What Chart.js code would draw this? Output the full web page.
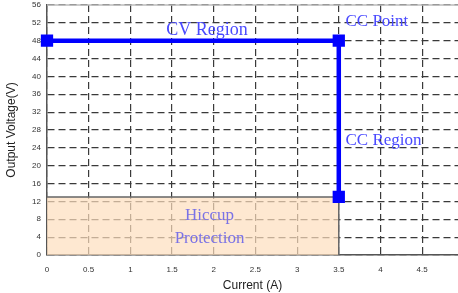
<!DOCTYPE html>
<html>
<head>
<meta charset="utf-8">
<script src="https://cdn.jsdelivr.net/npm/chart.js@4/dist/chart.umd.min.js"></script>
<style>
html,body{margin:0;padding:0;background:#fff;}
#wrap{position:relative;width:458px;height:293px;}
</style>
</head>
<body>
<div id="wrap"><canvas id="c" width="458" height="293"></canvas></div>
<script>
// Data
const currentA = [0, 3.5, 3.5];
const voltageV = [48, 48, 13];
const hiccupCurrent = [0, 3.5];
const hiccupVoltage = [0, 13];
const yTicks = [0, 4, 8, 12, 16, 20, 24, 28, 32, 36, 40, 44, 48, 52, 56];
const xTicks = [0, 0.5, 1, 1.5, 2, 2.5, 3, 3.5, 4, 4.5];
const regionLabels = ['CV Region', 'CC Point', 'CC Region'];
const hiccupLabels = ['Hiccup', 'Protection'];

const overlay = {
  id: 'overlay',
  beforeDatasetsDraw(chart) {
    const {ctx, scales: {x, y}} = chart;
    const x0 = x.getPixelForValue(hiccupCurrent[0]);
    const x1 = x.getPixelForValue(hiccupCurrent[1]);
    const y0 = y.getPixelForValue(hiccupVoltage[0]);
    const y1 = y.getPixelForValue(hiccupVoltage[1]);
    ctx.save();
    ctx.fillStyle = 'rgba(253,222,190,0.7)';
    ctx.fillRect(x0, y1, x1 - x0, y0 - y1);
    ctx.strokeStyle = '#666';
    ctx.lineWidth = 1.5;
    ctx.beginPath();
    ctx.moveTo(x0, y1); ctx.lineTo(x1, y1); ctx.lineTo(x1, y0);
    ctx.stroke();
    // top frame line
    ctx.strokeStyle = '#bbb';
    ctx.lineWidth = 1.5;
    ctx.beginPath();
    ctx.moveTo(chart.chartArea.left, chart.chartArea.top);
    ctx.lineTo(chart.chartArea.right, chart.chartArea.top);
    ctx.stroke();
    ctx.restore();
  },
  afterDatasetsDraw(chart) {
    const {ctx, scales: {x, y}} = chart;
    ctx.save();
    ctx.font = '18px "Liberation Serif", "Times New Roman", serif';
    ctx.fillStyle = '#4a4aff';
    ctx.textBaseline = 'middle';
    ctx.textAlign = 'center';
    ctx.fillText(regionLabels[0], x.getPixelForValue(1.92), y.getPixelForValue(50.4));
    ctx.textAlign = 'left';
    ctx.font = '17px "Liberation Serif", "Times New Roman", serif';
    ctx.fillText(regionLabels[1], x.getPixelForValue(3.58), y.getPixelForValue(52.2));
    ctx.fillText(regionLabels[2], x.getPixelForValue(3.58), y.getPixelForValue(25.7));
    ctx.fillStyle = '#7a72e6';
    ctx.textAlign = 'center';
    ctx.fillText(hiccupLabels[0], x.getPixelForValue(1.95), y.getPixelForValue(8.9));
    ctx.fillText(hiccupLabels[1], x.getPixelForValue(1.95), y.getPixelForValue(3.8));
    ctx.restore();
  }
};

const tickFont = {family: 'Arial, "Liberation Sans", sans-serif', size: 8};
new Chart(document.getElementById('c'), {
  type: 'scatter',
  data: {
    datasets: [{
      data: currentA.map((c, i) => ({x: c, y: voltageV[i]})),
      showLine: true,
      borderColor: '#0000ff',
      backgroundColor: '#0000ff',
      borderWidth: 4.5,
      pointStyle: 'rect',
      pointRadius: 5.5,
      pointHoverRadius: 5.5,
      tension: 0,
      clip: false
    }]
  },
  plugins: [overlay],
  options: {
    responsive: false,
    animation: false,
    events: [],
    layout: {autoPadding: false, padding: {top: 5, right: 0, left: 0, bottom: 0}},
    plugins: {legend: {display: false}, tooltip: {enabled: false}},
    scales: {
      x: {
        type: 'linear',
        min: 0,
        max: 4.93,
        afterBuildTicks(scale) { scale.ticks = xTicks.map(v => ({value: v})); },
        afterFit(scale) { scale.height = 38; scale.paddingLeft = 0; scale.paddingRight = 0; },
        grid: {color: '#3a3a3a', lineWidth: 1.2, drawTicks: false, tickLength: 0},
        border: {display: true, color: '#555', width: 1.5, dash: [7, 4]},
        ticks: {font: tickFont, color: '#333', padding: 10, maxRotation: 0,
          callback: v => String(v)},
        title: {display: true, text: 'Current (A)', color: '#222',
          font: {family: 'Arial, "Liberation Sans", sans-serif', size: 12}, padding: {top: 0, bottom: 0}}
      },
      y: {
        type: 'linear',
        min: 0,
        max: 56,
        afterBuildTicks(scale) { scale.ticks = yTicks.map(v => ({value: v})); },
        afterFit(scale) { scale.width = 47; scale.paddingTop = 0; scale.paddingBottom = 0; },
        grid: {color: '#3a3a3a', lineWidth: 1.2, drawTicks: false, tickLength: 0},
        border: {display: true, color: '#555', width: 1.5, dash: [7, 4]},
        ticks: {font: tickFont, color: '#333', padding: 6},
        title: {display: true, text: 'Output Voltage(V)', color: '#222',
          font: {family: 'Arial, "Liberation Sans", sans-serif', size: 12}, padding: {top: 4, bottom: 0}}
      }
    }
  }
});
</script>
</body>
</html>
